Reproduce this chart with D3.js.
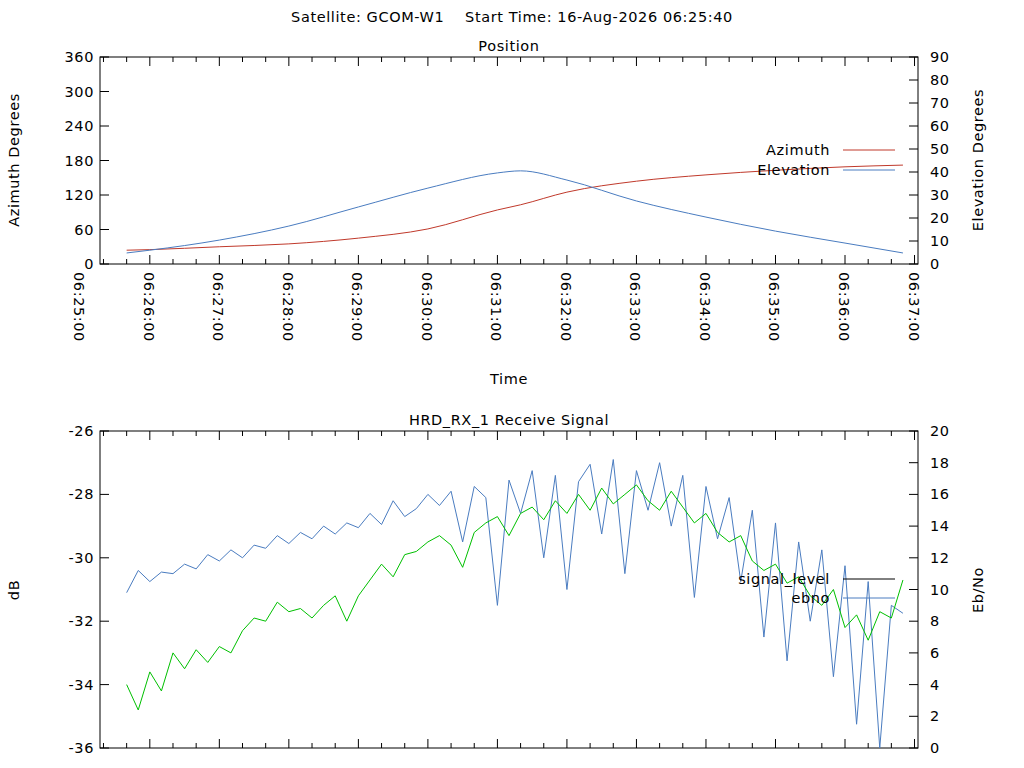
<!DOCTYPE html>
<html><head><meta charset="utf-8">
<script src="https://cdn.jsdelivr.net/npm/d3@7"></script>
<style>
body{margin:0;background:#fff}
text{font-family:"DejaVu Sans",sans-serif;font-size:14.5px;letter-spacing:0.6px;fill:#000}
</style></head><body>
<script>
// position samples (seconds after 06:25:00)
var posTimes = [40, 60, 120, 180, 240, 300, 360, 380, 420, 480, 540, 600, 660, 710];
var azimuth = [24, 25, 30, 35, 45, 61, 94, 103, 125, 144, 155, 163, 169, 172];
var elevation = [4.8, 6, 10.4, 16.5, 24.8, 33, 39.6, 40.5, 36.5, 27.4, 20.4, 14.3, 9.1, 4.8];

// receive signal samples, every 10 s from t=40
var sigStart = 40, sigStep = 10;
var signalLevel = [-34.0,-34.8,-33.6,-34.2,-33.0,-33.5,-32.9,-33.3,-32.8,-33.0,-32.3,-31.9,-32.0,-31.4,-31.7,-31.6,-31.9,-31.5,-31.2,-32.0,
  -31.2,-30.7,-30.2,-30.6,-29.9,-29.8,-29.5,-29.3,-29.6,-30.3,-29.2,-28.9,-28.7,-29.3,-28.6,-28.4,-28.8,-28.2,-28.6,-28.0,
  -28.5,-27.8,-28.3,-28.0,-27.7,-28.2,-28.5,-27.9,-28.4,-28.9,-28.6,-29.2,-29.5,-29.3,-30.1,-30.4,-30.2,-30.8,-30.6,-31.2,
  -31.5,-31.0,-32.2,-31.8,-32.6,-31.7,-31.9,-30.7];
var ebno = [9.8,11.2,10.5,11.1,11.0,11.6,11.3,12.2,11.8,12.5,12.0,12.8,12.6,13.4,12.9,13.6,13.2,14.0,13.5,14.2,
  13.9,14.8,14.1,15.6,14.6,15.1,16.0,15.3,16.2,13.0,16.5,15.8,9.0,16.9,14.8,17.5,12.0,17.2,10.0,16.8,
  17.9,13.5,18.2,11.0,17.5,15.0,18.0,14.0,17.2,9.5,16.5,13.2,15.8,10.5,15.0,7.0,14.2,5.5,13.0,8.0,
  12.5,4.5,11.5,1.5,10.5,0.0,9.0,8.5];

var timeLabels = ["06:25:00","06:26:00","06:27:00","06:28:00","06:29:00","06:30:00","06:31:00","06:32:00","06:33:00","06:34:00","06:35:00","06:36:00","06:37:00"];

var svg = d3.select("body").append("svg").attr("width", 1024).attr("height", 768);
var L = 100, R = 918;
// plot range runs from about 06:25:17 to 06:37:03
var x = d3.scaleLinear().domain([17, 723]).range([L, R]);

svg.append("text").attr("x", 512).attr("y", 22).attr("text-anchor", "middle").attr("xml:space", "preserve")
  .text("Satellite: GCOM-W1    Start Time: 16-Aug-2026 06:25:40");

function frame(top, bottom, title){
  svg.append("rect").attr("x", L).attr("y", top).attr("width", R - L).attr("height", bottom - top)
    .attr("fill", "none").attr("stroke", "#000");
  svg.append("text").attr("x", (L + R) / 2).attr("y", top - 6).attr("text-anchor", "middle").text(title);
  // time ticks top and bottom (major every minute, minor every 20 s)
  d3.range(20, 721, 20).forEach(function(t){
    var len = t % 60 === 0 ? 9 : 5;
    svg.append("line").attr("x1", x(t)).attr("x2", x(t)).attr("y1", bottom).attr("y2", bottom - len).attr("stroke", "#000");
    svg.append("line").attr("x1", x(t)).attr("x2", x(t)).attr("y1", top).attr("y2", top + len).attr("stroke", "#000");
  });
}

function yAxes(yl, yr, lt, rt){
  lt.forEach(function(v){
    svg.append("line").attr("x1", L).attr("x2", L + 9).attr("y1", yl(v)).attr("y2", yl(v)).attr("stroke", "#000");
    svg.append("text").attr("x", L - 6).attr("y", yl(v) + 5).attr("text-anchor", "end").text(v);
  });
  rt.forEach(function(v){
    svg.append("line").attr("x1", R).attr("x2", R - 9).attr("y1", yr(v)).attr("y2", yr(v)).attr("stroke", "#000");
    svg.append("text").attr("x", R + 12).attr("y", yr(v) + 5).text(v);
  });
}

function legend(y, label, color){
  svg.append("text").attr("x", 830).attr("y", y + 5).attr("text-anchor", "end").text(label);
  svg.append("line").attr("x1", 843).attr("x2", 895).attr("y1", y).attr("y2", y).attr("stroke", color);
}

// ---- Position chart
var pT = 57, pB = 264;
frame(pT, pB, "Position");
var yAz = d3.scaleLinear().domain([0, 360]).range([pB, pT]);
var yEl = d3.scaleLinear().domain([0, 90]).range([pB, pT]);
yAxes(yAz, yEl, d3.range(0, 361, 60), d3.range(0, 91, 10));
timeLabels.forEach(function(s, i){
  svg.append("text").attr("transform", "translate(" + (x(i * 60) - 6) + "," + (pB + 8) + ") rotate(90)").text(s);
});
svg.append("text").attr("x", (L + R) / 2).attr("y", 384).attr("text-anchor", "middle").text("Time");
svg.append("text").attr("transform", "translate(19,160) rotate(-90)").attr("text-anchor", "middle").text("Azimuth Degrees");
svg.append("text").attr("transform", "translate(983,160) rotate(-90)").attr("text-anchor", "middle").text("Elevation Degrees");

var posLine = function(ys, vals){
  return d3.line().curve(d3.curveMonotoneX).x(function(d, i){ return x(posTimes[i]); }).y(function(d){ return ys(d); })(vals);
};
svg.append("path").attr("d", posLine(yAz, azimuth)).attr("fill", "none").attr("stroke", "#c0392b");
svg.append("path").attr("d", posLine(yEl, elevation)).attr("fill", "none").attr("stroke", "#4a7cc0");
legend(150, "Azimuth", "#c0392b");
legend(170, "Elevation", "#4a7cc0");

// ---- Receive signal chart
var sT = 431, sB = 748;
frame(sT, sB, "HRD_RX_1 Receive Signal");
var yDb = d3.scaleLinear().domain([-36, -26]).range([sB, sT]);
var yEb = d3.scaleLinear().domain([0, 20]).range([sB, sT]);
yAxes(yDb, yEb, d3.range(-36, -25, 2), d3.range(0, 21, 2));
svg.append("text").attr("transform", "translate(19,590) rotate(-90)").attr("text-anchor", "middle").text("dB");
svg.append("text").attr("transform", "translate(983,590) rotate(-90)").attr("text-anchor", "middle").text("Eb/No");

var sigLine = function(ys){
  return d3.line().x(function(d, i){ return x(sigStart + i * sigStep); }).y(function(d){ return ys(d); });
};
svg.append("path").attr("d", sigLine(yEb)(ebno)).attr("fill", "none").attr("stroke", "#4a7cc0");
svg.append("path").attr("d", sigLine(yDb)(signalLevel)).attr("fill", "none").attr("stroke", "#00c000");
legend(579, "signal_level", "#000");
legend(598, "ebno", "#4a7cc0");
</script>
</body></html>
